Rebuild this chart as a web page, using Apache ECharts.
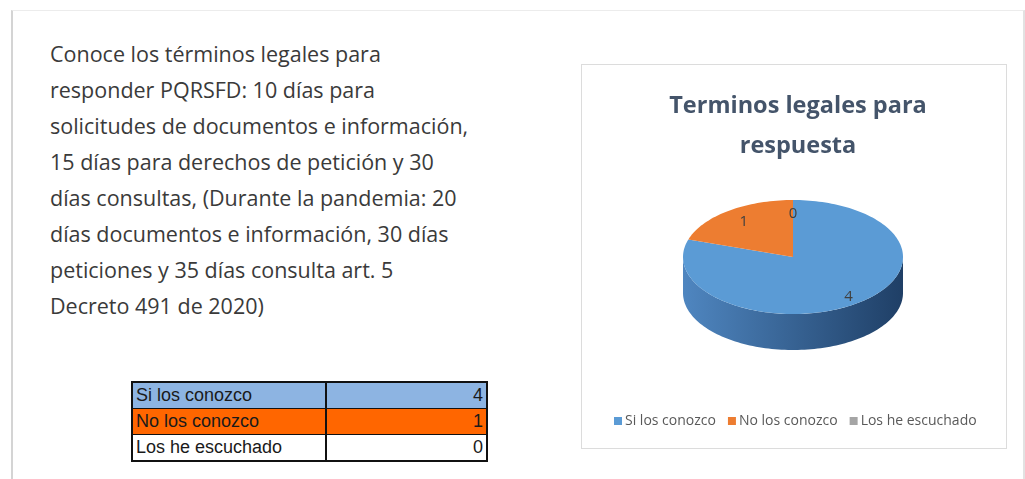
<!DOCTYPE html>
<html>
<head>
<meta charset="utf-8">
<script src="https://cdn.jsdelivr.net/npm/echarts@6/dist/echarts.min.js"></script>
<style>
  html, body { margin: 0; padding: 0; background: #ffffff; }
  #page { position: relative; width: 1025px; height: 479px; overflow: hidden; }
  #card { position: absolute; left: 11px; top: 10px; width: 1010px; height: 475px;
          border-left: 2px solid #d4d4d4; border-top: 1px solid #ececec; border-right: 2px solid #e2e2e2; }
  #texto { position: absolute; left: 50px; top: 36px; width: 470px; white-space: nowrap;
           font-family: "Open Sans", "Noto Sans", sans-serif; font-size: 21.5px; line-height: 36px; color: #3a3a3a; }
  #tabla { position: absolute; left: 131px; top: 381px; border-collapse: collapse;
           font-family: "Liberation Sans", Arial, sans-serif; font-size: 18px; color: #1a1a1a; border: 2px solid #111; }
  #tabla td { height: 25px; padding: 0 3px; border-top: 1px solid #111; border-bottom: 1px solid #111; }
  #tabla td.n { width: 153px; text-align: right; border-left: 2px solid #111; }
  #tabla td.c { width: 186px; }
  #chart { position: absolute; left: 0; top: 0; width: 1025px; height: 479px; }
  #box { position: absolute; left: 581px; top: 64px; width: 424px; height: 383px; border: 1px solid #dcdcdc; }
</style>
</head>
<body>
<div id="page">
  <div id="card"></div>
  <div id="box"></div>
  <div id="texto">Conoce los términos legales para<br>responder PQRSFD: 10 días para<br>solicitudes de documentos e información,<br>15 días para derechos de petición y 30<br>días consultas, (Durante la pandemia: 20<br>días documentos e información, 30 días<br>peticiones y 35 días consulta art. 5<br>Decreto 491 de 2020)</div>
  <table id="tabla"></table>
  <div id="chart"></div>
</div>
<script>
// datos
var categorias = ['Si los conozco', 'No los conozco', 'Los he escuchado'];
var valores = [4, 1, 0];
var colores = ['#5b9bd5', '#ed7d31', '#a5a5a5'];
var coloresLado = [['#4f86c0', '#1f3f66'], ['#c9661f', '#8a4010'], ['#8a8a8a', '#5e5e5e']];
var coloresTabla = ['#8db4e2', '#ff6600', '#ffffff'];
var titulo = 'Terminos legales para\nrespuesta';

// tabla
var tabla = document.getElementById('tabla');
for (var i = 0; i < categorias.length; i++) {
    var tr = document.createElement('tr');
    tr.style.background = coloresTabla[i];
    tr.innerHTML = '<td class="c">' + categorias[i] + '</td><td class="n">' + valores[i] + '</td>';
    tabla.appendChild(tr);
}

// pastel 3D
var cx = 793, cy = 257, rx = 110, ry = 57, prof = 36;
var total = valores.reduce(function (a, b) { return a + b; }, 0);
var inicios = [];
var acum = -Math.PI / 2;
for (var i = 0; i < valores.length; i++) {
    inicios.push(acum);
    acum += valores[i] / total * Math.PI * 2;
}

function pt(a, dy) {
    return [cx + rx * Math.cos(a), cy + ry * Math.sin(a) + (dy || 0)];
}

function caraSuperior(a1, a2) {
    var pts = [[cx, cy]];
    var n = Math.max(2, Math.ceil((a2 - a1) / 0.03));
    for (var k = 0; k <= n; k++) pts.push(pt(a1 + (a2 - a1) * k / n));
    return pts;
}

function lado(a1, a2) {
    // solo la parte frontal (0..PI en pantalla)
    var trozos = [];
    for (var off = -2 * Math.PI; off <= 2 * Math.PI; off += 2 * Math.PI) {
        var s = Math.max(a1, off), e = Math.min(a2, off + Math.PI);
        if (e > s) trozos.push([s, e]);
    }
    return trozos.map(function (t) {
        var pts = [];
        var n = Math.max(2, Math.ceil((t[1] - t[0]) / 0.03));
        for (var k = 0; k <= n; k++) pts.push(pt(t[0] + (t[1] - t[0]) * k / n));
        for (var k = n; k >= 0; k--) pts.push(pt(t[0] + (t[1] - t[0]) * k / n, prof));
        return pts;
    });
}

var chart = echarts.init(document.getElementById('chart'));
var series = categorias.map(function (nombre, i) {
    return {
        type: 'custom',
        name: nombre,
        coordinateSystem: 'none',
        itemStyle: { color: colores[i] },
        z: 2,
        data: [[i, valores[i]]],
        renderItem: function (params, api) {
            var idx = api.value(0);
            var a1 = inicios[idx];
            var a2 = a1 + api.value(1) / total * Math.PI * 2;
            var hijos = [];
            lado(a1, a2).forEach(function (p) {
                hijos.push({
                    type: 'polygon', z2: 1,
                    shape: { points: p },
                    style: {
                        fill: new echarts.graphic.LinearGradient(0, 0, 1, 0, [
                            { offset: 0, color: coloresLado[idx][0] },
                            { offset: 1, color: coloresLado[idx][1] }
                        ], false)
                    }
                });
            });
            if (a2 > a1) {
                hijos.push({
                    type: 'polygon', z2: 10,
                    shape: { points: caraSuperior(a1, a2) },
                    style: { fill: colores[idx] }
                });
            }
            var am = (a1 + a2) / 2;
            var rf = valores[idx] > 0 && (a2 - a1) > 2 ? 0.86 : 0.76;
            hijos.push({
                type: 'text', z2: 20,
                x: cx + rx * rf * Math.cos(am), y: cy + ry * rf * Math.sin(am),
                style: {
                    text: String(api.value(1)), align: 'center', verticalAlign: 'middle',
                    font: '15px "Open Sans", sans-serif', fill: '#404040'
                }
            });
            return { type: 'group', children: hijos };
        }
    };
});

chart.setOption({
    animation: false,
    title: {
        text: titulo,
        left: 793, top: 81, textAlign: 'center',
        textStyle: { fontFamily: 'Open Sans', fontSize: 23.5, fontWeight: 'bold', color: '#44546a', lineHeight: 40 }
    },
    legend: {
        data: categorias,
        left: 609, top: 409,
        itemWidth: 8, itemHeight: 8, itemGap: 12,
        icon: 'rect',
        textStyle: { fontFamily: 'Open Sans', fontSize: 14, color: '#595959', padding: [0, 0, 0, -2] }
    },
    series: series
});
</script>
</body>
</html>
